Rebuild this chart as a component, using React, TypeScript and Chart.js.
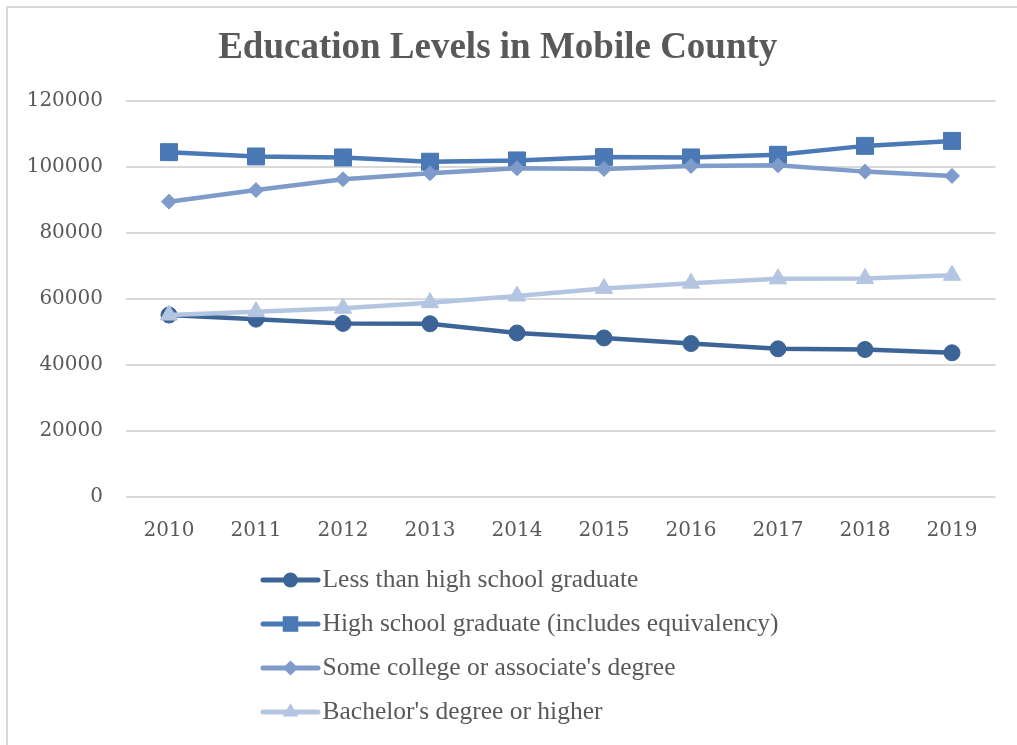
import React, { useEffect, useRef } from "react";
import { Chart, registerables } from "chart.js";

Chart.register(...registerables);

const years = ["2010", "2011", "2012", "2013", "2014", "2015", "2016", "2017", "2018", "2019"];
const seriesNames = [
  "Less than high school graduate",
  "High school graduate (includes equivalency)",
  "Some college or associate's degree",
  "Bachelor's degree or higher",
];
const lessThanHS = [55150, 53900, 52600, 52500, 49700, 48200, 46500, 44900, 44700, 43700];
const hsGrad = [104500, 103200, 102900, 101600, 102000, 103000, 102900, 103700, 106400, 107900];
const someCollege = [89500, 93000, 96300, 98100, 99600, 99400, 100300, 100500, 98600, 97300];
const bachelors = [55150, 56150, 57200, 58900, 60900, 63200, 64800, 66100, 66200, 67200];
const yTicks = [0, 20000, 40000, 60000, 80000, 100000, 120000];

const colors = ["#3D6496", "#4A79B5", "#7E9BC9", "#B4C5E1"];
const pointStyles = ["circle", "rect", "rectRot", "triangle"];
const pointRadii = [8, 12, 7.5, 10];
const legendRadii = [7.5, 11, 7.5, 9];
const textColor = "#595959";

function drawMarker(ctx: CanvasRenderingContext2D, style: string, x: number, y: number, r: number) {
  ctx.beginPath();
  if (style === "circle") {
    ctx.arc(x, y, r, 0, Math.PI * 2);
  } else if (style === "rect") {
    const s = Math.SQRT1_2 * r;
    ctx.rect(x - s, y - s, 2 * s, 2 * s);
  } else if (style === "rectRot") {
    ctx.moveTo(x, y - r);
    ctx.lineTo(x + r, y);
    ctx.lineTo(x, y + r);
    ctx.lineTo(x - r, y);
    ctx.closePath();
  } else {
    let a = 0;
    ctx.moveTo(x + Math.sin(a) * r, y - Math.cos(a) * r);
    a += (2 * Math.PI) / 3;
    ctx.lineTo(x + Math.sin(a) * r, y - Math.cos(a) * r);
    a += (2 * Math.PI) / 3;
    ctx.lineTo(x + Math.sin(a) * r, y - Math.cos(a) * r);
    ctx.closePath();
  }
  ctx.fill();
}

const verticalLegend = {
  id: "verticalLegend",
  afterDraw(chart: any) {
    const ctx: CanvasRenderingContext2D = chart.ctx;
    const left = 263;
    const top = 580;
    const rowGap = 44;
    const lineLen = 55;
    ctx.save();
    chart.data.datasets.forEach((ds: any, i: number) => {
      const y = top + i * rowGap;
      ctx.strokeStyle = ds.borderColor;
      ctx.fillStyle = ds.borderColor;
      ctx.lineWidth = 5;
      ctx.lineCap = "round";
      ctx.beginPath();
      ctx.moveTo(left, y);
      ctx.lineTo(left + lineLen, y);
      ctx.stroke();
      drawMarker(ctx, pointStyles[i], left + lineLen / 2, y, legendRadii[i]);
      ctx.fillStyle = textColor;
      ctx.font = "25.5px 'Liberation Serif'";
      ctx.textBaseline = "middle";
      ctx.textAlign = "left";
      ctx.fillText(ds.label, left + lineLen + 4.5, y);
    });
    ctx.restore();
  },
};

const whiteBg = {
  id: "whiteBg",
  beforeDraw(chart: any) {
    const ctx = chart.ctx;
    ctx.save();
    ctx.fillStyle = "#ffffff";
    ctx.fillRect(0, 0, chart.width, chart.height);
    ctx.restore();
  },
};

export default function App() {
  const canvasRef = useRef<HTMLCanvasElement | null>(null);

  useEffect(() => {
    if (!canvasRef.current) return;
    const series = [lessThanHS, hsGrad, someCollege, bachelors];
    const chart = new Chart(canvasRef.current, {
      type: "line",
      data: {
        labels: years,
        datasets: series.map((data, i) => ({
          label: seriesNames[i],
          data,
          borderColor: colors[i],
          backgroundColor: colors[i],
          pointBackgroundColor: colors[i],
          pointBorderColor: colors[i],
          pointBorderWidth: 1,
          borderWidth: 4.5,
          pointStyle: pointStyles[i] as any,
          pointRadius: pointRadii[i],
          tension: 0,
          fill: false,
          order: 4 - i,
        })),
      },
      options: {
        responsive: false,
        animation: false,
        layout: { padding: { left: 0, right: 21.5, top: 0, bottom: 0 } },
        plugins: {
          legend: { display: false },
          tooltip: { enabled: false },
          title: {
            display: true,
            text: "Education Levels in Mobile County",
            color: textColor,
            font: { family: "'Liberation Serif'", size: 37, weight: "bold" },
            padding: { top: 26, bottom: 30.6 },
          },
        },
        scales: {
          x: {
            type: "category",
            offset: true,
            grid: { display: false, drawTicks: false },
            border: { display: false },
            ticks: {
              color: textColor,
              font: { family: "'DejaVu Serif'", size: 20 },
              padding: 22,
              maxRotation: 0,
            },
            afterFit(scale: any) {
              scale.height = 248;
            },
          },
          y: {
            min: 0,
            max: 120000,
            grid: { color: "#D9D9D9", lineWidth: 2, drawTicks: false },
            border: { display: false },
            afterBuildTicks(scale: any) {
              scale.ticks = yTicks.map((v) => ({ value: v }));
            },
            ticks: {
              color: textColor,
              font: { family: "'DejaVu Serif'", size: 20 },
              padding: 22.5,
              callback: (v: any) => String(v),
            },
            afterFit(scale: any) {
              scale.width = 125.5;
            },
          },
        },
      },
      plugins: [whiteBg, verticalLegend],
    });
    return () => chart.destroy();
  }, []);

  return (
    <div style={{ position: "fixed", left: 0, top: 0, width: 1017, height: 745, background: "#fff" }}>
      <canvas ref={canvasRef} width={1017} height={745} style={{ display: "block" }} />
      <div
        style={{
          position: "absolute",
          left: 6,
          top: 6,
          right: 0,
          bottom: 0,
          borderTop: "2px solid #D9D9D9",
          borderLeft: "2px solid #D9D9D9",
          pointerEvents: "none",
        }}
      />
    </div>
  );
}
